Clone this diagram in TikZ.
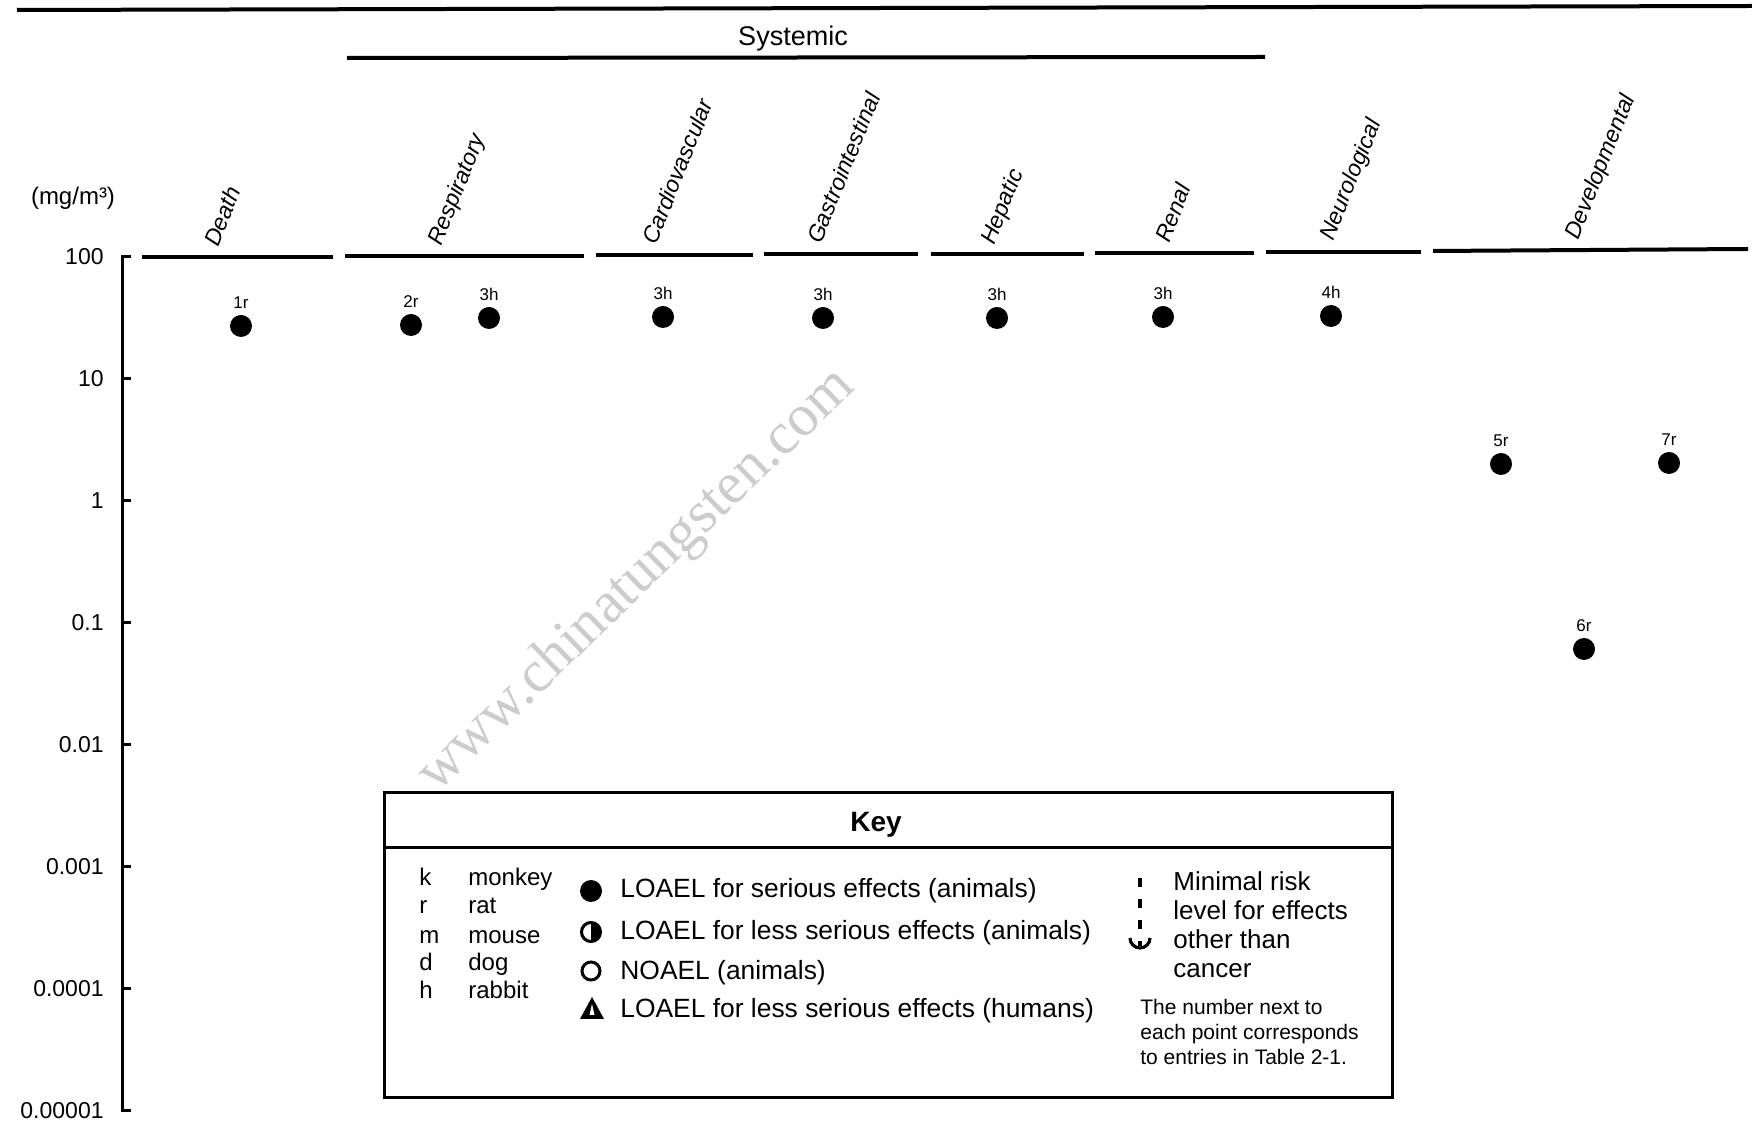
\documentclass[tikz,border=0pt]{standalone}
\usepackage{fontspec}
\setmainfont{Liberation Sans}
\newfontfamily\wmfont{Liberation Serif}
\usetikzlibrary{positioning}

\begin{document}
\begin{tikzpicture}[x=0.5pt,y=-0.5pt,
	dot/.style={circle,fill=black,inner sep=0pt,minimum size=11pt},
	ptlabel/.style={font=\fontsize{8.5}{10}\selectfont,inner sep=0pt},
	cat/.style={font=\fontsize{11.5}{14}\selectfont\itshape,rotate=68,anchor=base west,inner sep=0pt},
	ticklabel/.style={font=\fontsize{11.5}{14}\selectfont,anchor=east,inner sep=0pt},
	keytext/.style={font=\fontsize{13.2}{16}\selectfont,anchor=base west,inner sep=0pt},
	spectext/.style={font=\fontsize{12}{14}\selectfont,anchor=base west,inner sep=0pt},
	bar/.style={line width=2pt},
	wm/.style={font=\wmfont\fontsize{29.5}{32}\selectfont,text=black!20,rotate=44}]
	\useasboundingbox (0,0) rectangle (1752,1127);
	\node[wm] (wmark) at (637,581) {www.chinatungsten.com};
	\draw[bar] (17,10) -- (1752,6);
	\node[font=\fontsize{13.5}{16}\selectfont] (sys) at (793,39) {Systemic};
	\draw[bar] (347,58) -- (1265,57);
	\node[font=\fontsize{12}{14}\selectfont] (unit) at (73,198) {(mg/m³)};
	\draw[line width=1.5pt] (131,257) -- (122,257) -- (122,1110) -- (131,1110);
	\foreach \k/\t in {0/100,1/10,2/1,3/0.1,4/0.01,5/0.001,6/0.0001,7/0.00001} {
		\node[ticklabel] (t\k) at (104,257+121.9*\k) {\t};
		\draw[line width=1.5pt] (122,257+121.9*\k) -- (131,257+121.9*\k);
	}
	\draw[bar] (142,257) -- (333,257);
	\draw[bar] (345,256) -- (584,256);
	\draw[bar] (596,255) -- (753,255);
	\draw[bar] (764,254) -- (918,254);
	\draw[bar] (931,254) -- (1084,254);
	\draw[bar] (1095,253) -- (1254,253);
	\draw[bar] (1266,252) -- (1421,252);
	\draw[bar] (1433,251) -- (1748,249);
	\node[cat] (death) at (218,248) {Death};
	\node[cat] (resp) at (441,247) {Respiratory};
	\node[cat] (cardio) at (656,246) {Cardiovascular};
	\node[cat] (gastro) at (821,245) {Gastrointestinal};
	\node[cat] (hep) at (994,246) {Hepatic};
	\node[cat] (renal) at (1169,244) {Renal};
	\node[cat] (neuro) at (1333,242) {Neurological};
	\node[cat] (dev) at (1578,241) {Developmental};
	\foreach \x/\y/\t/\n in {241/326/1r/1,411/325/2r/2,489/318/3h/3,663/317/3h/4,823/318/3h/5,
		997/318/3h/6,1163/317/3h/7,1331/316/4h/8,1501/464/5r/9,1584/649/6r/10,1669/463/7r/11} {
		\node[dot] (p\n) at (\x,\y) {};
		\node[ptlabel, above=3pt of p\n] (l\n) {\t};
	}
	% key
	\draw[line width=1.5pt] (384,793) rectangle (1392,1097);
	\draw[line width=1.5pt] (384,848) -- (1392,848);
	\node[font=\fontsize{14}{16}\selectfont\bfseries] (key) at (876,825) {Key};
	\foreach \y/\a/\b in {886/k/monkey,914/r/rat,943/m/mouse,971/d/dog,999/h/rabbit} {
		\node[spectext] (s\a) at (419,\y) {\a};
		\node[spectext] (n\a) at (468,\y) {\b};
	}
	\node[dot] (sym1) at (591,891) {};
	\fill (591,922) arc (-90:90:10) -- cycle;
	\draw[line width=1.5pt] (591,932) circle (9.5);
	\draw[line width=1.5pt] (591,971) circle (9);
	\fill (580,1019) -- (592,997) -- (604,1019) -- cycle;
	\fill[white] (589.5,1015) -- (592,1004) -- (594.5,1015) -- cycle;
	\node[keytext] (k1) at (620,898) {LOAEL for serious effects (animals)};
	\node[keytext] (k2) at (620,940) {LOAEL for less serious effects (animals)};
	\node[keytext] (k3) at (620,979) {NOAEL (animals)};
	\node[keytext] (k4) at (620,1017) {LOAEL for less serious effects (humans)};
	\draw[line width=1.6pt,dash pattern=on 4.5pt off 6pt] (1140,878) -- (1140,946);
	\draw[line width=1.6pt] (1130,938) arc (180:0:10);
	\node[font=\fontsize{13}{14.5}\selectfont,align=left,anchor=north west,inner sep=0pt] (mrl) at (1173,871) {Minimal risk\\level for effects\\other than\\cancer};
	\node[font=\fontsize{10.5}{12.5}\selectfont,align=left,anchor=north west,inner sep=0pt] (note) at (1140,999) {The number next to\\each point corresponds\\to entries in Table 2-1.};
\end{tikzpicture}
\end{document}
